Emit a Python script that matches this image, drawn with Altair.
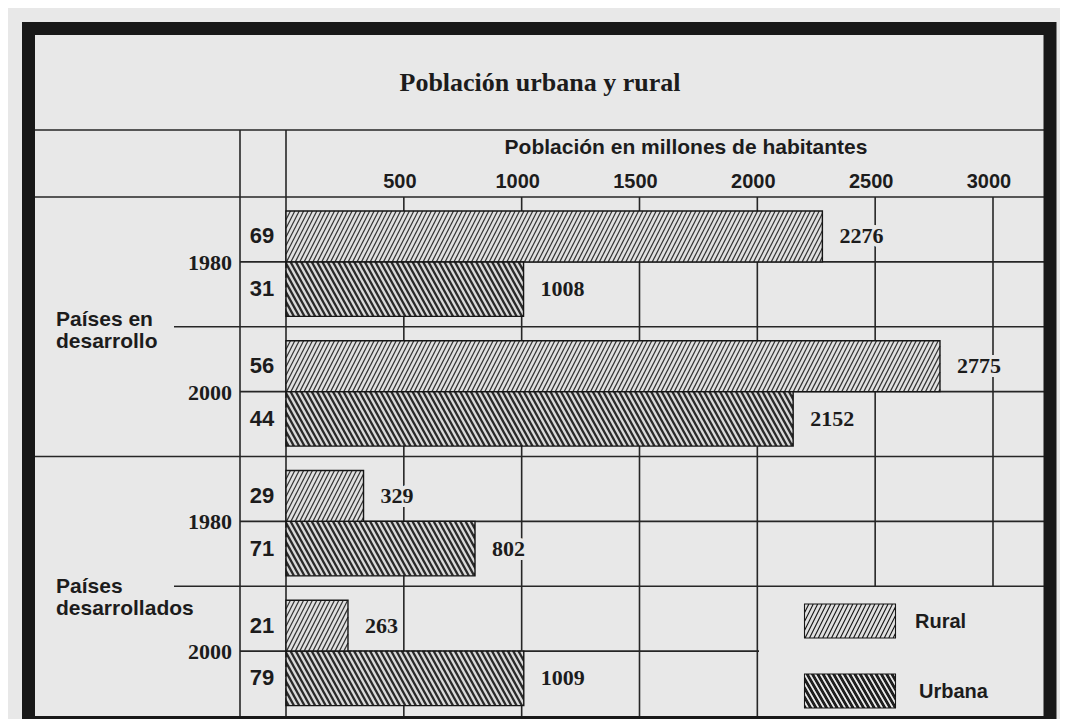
import altair as alt
import pandas as pd

# ---------------- data ----------------
groups = ["Países en desarrollo"] * 4 + ["Países desarrollados"] * 4
years = [1980, 1980, 2000, 2000, 1980, 1980, 2000, 2000]
types = ["Rural", "Urbana", "Rural", "Urbana", "Rural", "Urbana", "Rural", "Urbana"]
values = [2276, 1008, 2775, 2152, 329, 802, 263, 1009]
pcts = [69, 31, 56, 44, 29, 71, 21, 79]
ticks = [500, 1000, 1500, 2000, 2500, 3000]
group_labels = ["Países en\ndesarrollo", "Países\ndesarrollados"]
legend_types = ["Rural", "Urbana"]
title_text = "Población urbana y rural"
axis_title_text = "Población en millones de habitantes"

group_order = ["Países en desarrollo", "Países desarrollados"]
year_order = [1980, 2000]

bars = pd.DataFrame(dict(group=groups, year=years, type=types, value=values, pct=pcts))
bars["block"] = [group_order.index(g) * 2 + year_order.index(y) for g, y in zip(groups, years)]
group_df = pd.DataFrame(dict(label=group_labels, boundary=[1, 3]))
tick_df = pd.DataFrame(dict(tick=ticks))
legend_df = pd.DataFrame(dict(type=legend_types))
one = pd.DataFrame(dict(k=[0]))

# ---------------- style ----------------
SERIF = "Liberation Serif"
SANS = "Liberation Sans"
INK = "#1c1c1c"
LINE = "#262626"
LW = 1.6
BG = "#e8e8e8"
RURAL_FILL = "#e0e0e0"
URBAN_FILL = "#2a2a2a"

XS = alt.Scale(domain=[0, 3000], range=[278, 985], nice=False, zero=False)
YS = alt.Scale(domain=[0, 10], range=[189, 708], nice=False, zero=False)

Y0 = "datum.block*2.5 + (datum.type == 'Rural' ? 0.27 : 1.25)"
Y1 = "datum.block*2.5 + (datum.type == 'Rural' ? 1.25 : 2.3)"


def bar_base():
    return alt.Chart(bars).transform_calculate(
        y0=Y0, y1=Y1, yc="(datum.y0 + datum.y1) / 2", x0="0"
    )


def X(f):
    return alt.X(f, scale=XS, axis=None, title=None)


def Y(f):
    return alt.Y(f, scale=YS, axis=None, title=None)


# ---------------- legend symbol paths (hatched rectangles) ----------------
R = 20.0  # half of sqrt(symbol size)
W = 45.5 / R
H = 17.0 / R


def f(v):
    return f"{v:.3f}"


rect_path = f"M{f(-W)},{f(-H)}H{f(W)}V{f(H)}H{f(-W)}Z"

# Rural: thin dark "/" lines
r_shift = 17.0 / R
r_sp = 4.4 / R
r_segs = []
a = -W - r_shift
while a < W:
    tmin = max(0.0, (-W - a) / r_shift)
    tmax = min(1.0, (W - a) / r_shift)
    if tmax > tmin:
        r_segs.append(
            f"M{f(a + r_shift * tmin)},{f(H - 2 * H * tmin)}L{f(a + r_shift * tmax)},{f(H - 2 * H * tmax)}"
        )
    a += r_sp
rural_path = rect_path + "".join(r_segs)


def clip_x(poly, xb, keep_greater):
    out = []
    n = len(poly)
    for i in range(n):
        P = poly[i]
        Q = poly[(i + 1) % n]
        pin = P[0] >= xb if keep_greater else P[0] <= xb
        qin = Q[0] >= xb if keep_greater else Q[0] <= xb
        if pin:
            out.append(P)
        if pin != qin:
            t = (xb - P[0]) / (Q[0] - P[0])
            out.append((xb, P[1] + t * (Q[1] - P[1])))
    return out


# Urbana: dark fill with light "\" stripes cut out as holes
u_shift = 19.6 / R
u_sp = 5.3 / R
u_w = 3.4 / R
u_polys = []
a = -W - u_shift - u_w
while a < W:
    poly = [(a, -H), (a + u_shift, H), (a + u_shift + u_w, H), (a + u_w, -H)]
    poly = clip_x(poly, -W, True)
    if poly:
        poly = clip_x(poly, W, False)
    if len(poly) >= 3:
        u_polys.append("M" + "L".join(f"{f(p[0])},{f(p[1])}" for p in poly) + "Z")
    a += u_sp
urban_path = rect_path + "".join(u_polys)

# ---------------- table lines ----------------
header_line = alt.Chart(one).mark_rule(color=LINE, strokeWidth=LW).encode(
    x=alt.value(27), x2=alt.value(1036), y=alt.value(122)
)
vline_pct = alt.Chart(one).mark_rule(color=LINE, strokeWidth=LW).encode(
    x=alt.value(232), y=alt.value(122), y2=alt.value(711)
)
vline_zero = alt.Chart(one).mark_rule(color=LINE, strokeWidth=LW).encode(
    x=alt.value(278), y=alt.value(122), y2=alt.value(711)
)

rural_rows = bar_base().transform_filter("datum.type == 'Rural'")

full_lines = rural_rows.transform_filter("datum.block % 2 == 0").transform_calculate(
    yb="datum.block*2.5"
).mark_rule(color=LINE, strokeWidth=LW).encode(
    y=Y("yb:Q"), x=alt.value(27), x2=alt.value(1036)
)
group_lines = rural_rows.transform_filter("datum.block % 2 == 1").transform_calculate(
    yb="datum.block*2.5"
).mark_rule(color=LINE, strokeWidth=LW).encode(
    y=Y("yb:Q"), x=alt.value(166), x2=alt.value(1036)
)
year_lines = rural_rows.transform_filter("datum.block < 3").mark_rule(
    color=LINE, strokeWidth=LW
).encode(y=Y("y1:Q"), x=alt.value(232), x2=alt.value(1036))
year_line_last = rural_rows.transform_filter("datum.block == 3").mark_rule(
    color=LINE, strokeWidth=LW
).encode(y=Y("y1:Q"), x=alt.value(232), x2=alt.value(751))

grid = alt.Chart(tick_df).transform_calculate(
    ys="0", ye="datum.tick > 2000 ? 7.5 : 10"
).mark_rule(color=LINE, strokeWidth=LW).encode(
    x=X("tick:Q"), y=Y("ys:Q"), y2=alt.Y2("ye:Q")
)

# ---------------- bars ----------------
bar_fill = bar_base().mark_rect().encode(
    x=X("x0:Q"),
    x2=alt.X2("value:Q"),
    y=Y("y0:Q"),
    y2=alt.Y2("y1:Q"),
    fill=alt.Fill(
        "type:N",
        scale=alt.Scale(domain=legend_types, range=[RURAL_FILL, URBAN_FILL]),
        legend=None,
    ),
)

RS, RSP = 110.0, 18.7
hatch_rural = (
    bar_base()
    .transform_filter("datum.type == 'Rural'")
    .transform_calculate(seq=f"sequence({-RS}, datum.value, {RSP})")
    .transform_flatten(["seq"], as_=["a"])
    .transform_calculate(
        tmin=f"max(0, -datum.a / {RS})",
        tmax=f"min(1, (datum.value - datum.a) / {RS})",
    )
    .transform_filter("datum.tmax > datum.tmin")
    .transform_calculate(
        hx0=f"datum.a + {RS} * datum.tmin",
        hx1=f"datum.a + {RS} * datum.tmax",
        hy0="datum.y1 - datum.tmin * (datum.y1 - datum.y0)",
        hy1="datum.y1 - datum.tmax * (datum.y1 - datum.y0)",
    )
    .mark_rule(color="#333333", strokeWidth=1.2)
    .encode(x=X("hx0:Q"), x2=alt.X2("hx1:Q"), y=Y("hy0:Q"), y2=alt.Y2("hy1:Q"))
)

US, USP = 127.0, 22.5
hatch_urban = (
    bar_base()
    .transform_filter("datum.type == 'Urbana'")
    .transform_calculate(seq=f"sequence({-US}, datum.value, {USP})")
    .transform_flatten(["seq"], as_=["a"])
    .transform_calculate(
        tmin=f"max(0, -datum.a / {US})",
        tmax=f"min(1, (datum.value - datum.a) / {US})",
    )
    .transform_filter("datum.tmax > datum.tmin")
    .transform_calculate(
        hx0=f"datum.a + {US} * datum.tmin",
        hx1=f"datum.a + {US} * datum.tmax",
        hy0="datum.y0 + datum.tmin * (datum.y1 - datum.y0)",
        hy1="datum.y0 + datum.tmax * (datum.y1 - datum.y0)",
    )
    .mark_rule(color="#d9d9d9", strokeWidth=2.3)
    .encode(x=X("hx0:Q"), x2=alt.X2("hx1:Q"), y=Y("hy0:Q"), y2=alt.Y2("hy1:Q"))
)

bar_outline = bar_base().mark_rect(
    fill="transparent", stroke="#151515", strokeWidth=1.4
).encode(x=X("x0:Q"), x2=alt.X2("value:Q"), y=Y("y0:Q"), y2=alt.Y2("y1:Q"))

# ---------------- texts ----------------
pct_text = bar_base().mark_text(
    font=SANS, fontSize=22, fontWeight="bold", color=INK, align="center", baseline="middle"
).encode(x=alt.value(254), y=Y("yc:Q"), text=alt.Text("pct:Q", format="d"))

VAL_KW = dict(font=SERIF, fontSize=22, fontWeight="bold", align="left", baseline="middle", dx=17)
value_halo = bar_base().mark_text(color=BG, stroke=BG, strokeWidth=8, **VAL_KW).encode(
    x=X("value:Q"), y=Y("yc:Q"), text=alt.Text("value:Q", format="d")
)
value_text = bar_base().mark_text(color=INK, **VAL_KW).encode(
    x=X("value:Q"), y=Y("yc:Q"), text=alt.Text("value:Q", format="d")
)

year_text = rural_rows.mark_text(
    font=SERIF, fontSize=22, fontWeight="bold", color=INK, align="right", baseline="middle", dy=1
).encode(x=alt.value(224), y=Y("y1:Q"), text=alt.Text("year:N"))


def group_text_layer(boundary, dy):
    return alt.Chart(group_df).transform_filter(f"datum.boundary == {boundary}").transform_calculate(
        yb="datum.boundary*2.5"
    ).mark_text(
        font=SANS, fontSize=21, fontWeight="bold", color=INK, align="left", baseline="middle",
        lineBreak="\n", lineHeight=22, dy=dy,
    ).encode(x=alt.value(48), y=Y("yb:Q"), text="label:N")


group_text_1 = group_text_layer(1, -7)
group_text_2 = group_text_layer(3, 1)

tick_text = alt.Chart(tick_df).mark_text(
    font=SANS, fontSize=20, fontWeight="bold", color=INK, align="center", baseline="middle", dx=-4
).encode(x=X("tick:Q"), y=alt.value(174), text=alt.Text("tick:Q", format="d"))

title = alt.Chart(one).mark_text(
    font=SERIF, fontSize=26, fontWeight="bold", color=INK, align="center", baseline="middle"
).encode(x=alt.value(532), y=alt.value(75), text=alt.value(title_text))

axis_title = alt.Chart(one).mark_text(
    font=SANS, fontSize=21, fontWeight="bold", color=INK, align="center", baseline="middle"
).encode(x=alt.value(678), y=alt.value(140), text=alt.value(axis_title_text))

# ---------------- legend (drawn as key symbols + labels) ----------------
LEG_ROWS = {"Rural": (rural_path, RURAL_FILL, 613), "Urbana": (urban_path, URBAN_FILL, 683)}
legend_layers = []
for t in legend_types:
    path, fill_c, ypix = LEG_ROWS[t]
    src = alt.Chart(legend_df).transform_filter(f"datum.type == '{t}'")
    legend_layers.append(
        src.mark_point(
            shape=path, size=1600, filled=True, fill=fill_c, stroke="#151515",
            strokeWidth=1.1, opacity=1,
        ).encode(x=alt.value(842), y=alt.value(ypix))
    )
    legend_layers.append(
        src.mark_text(
            font=SANS, fontSize=20, fontWeight="bold", color=INK, align="left", baseline="middle",
        ).encode(x=alt.value(907 if t == "Rural" else 911), y=alt.value(ypix + 1), text="type:N")
    )

# ---------------- frame ----------------
frame = alt.Chart(one).mark_rect(fill="transparent", stroke="#181818", strokeWidth=13).encode(
    x=alt.value(20.5), x2=alt.value(1042), y=alt.value(20.5), y2=alt.value(714.5)
)

chart = alt.layer(
    header_line, vline_pct, vline_zero, full_lines, group_lines, year_lines, year_line_last, grid,
    bar_fill, hatch_rural, hatch_urban, bar_outline,
    pct_text, value_halo, value_text, year_text, group_text_1, group_text_2, tick_text, title,
    axis_title, *legend_layers, frame,
).properties(
    width=1052, height=711, padding=0, background=BG,
    autosize=alt.AutoSizeParams(type="none"),
).configure_view(strokeWidth=0)

chart.save("out.html", embed_options={"renderer": "svg", "actions": False})
